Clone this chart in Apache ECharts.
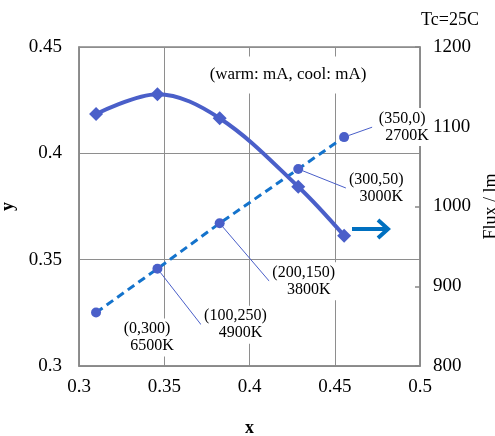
<!DOCTYPE html>
<html>
<head>
<meta charset="utf-8">
<script src="https://cdn.jsdelivr.net/npm/echarts@6/dist/echarts.min.js"></script>
<style>
html,body{margin:0;padding:0;background:#fff;}
#chart{width:495px;height:436px;}
</style>
</head>
<body>
<div id="chart"></div>
<script>
// ---- data ----
const chromaX = [0.310, 0.346, 0.3825, 0.4286, 0.4555];
const chromaY = [0.4185, 0.4278, 0.4165, 0.3843, 0.3613];
const fluxValues = [867, 922, 979, 1047, 1087];
const currentLabels = ['(0,300)', '(100,250)', '(200,150)', '(300,50)', '(350,0)'];
const cctLabels = ['6500K', '4900K', '3800K', '3000K', '2700K'];
const xAxisRange = [0.3, 0.5, 0.05];
const yAxisRange = [0.3, 0.45, 0.05];
const fluxAxisRange = [800, 1200, 100];
const noteText = '(warm: mA, cool: mA)';
const tempText = 'Tc=25C';

// ---- styling (offsets of data labels from their points) ----
const labelOffsets = [[51, 25], [78, 56], [84, 58], [78, 19], [58, -10]];
const showLeader = [false, true, true, true, true];

const FONT = 'Liberation Serif';
const MARK = '#4A5FC9';
const DASH = '#1473CC';
const GRIDC = '#8E8E8E';

const chart = echarts.init(document.getElementById('chart'), null, {renderer: 'canvas'});

const chromaData = chromaX.map((x, i) => [x, chromaY[i]]);
const fluxData = chromaX.map((x, i) => ({
  value: [x, fluxValues[i]],
  labelLine: {show: showLeader[i]}
}));

const option = {
  backgroundColor: '#fff',
  animation: false,
  textStyle: {fontFamily: FONT},
  grid: {left: 79, right: 75, top: 47, bottom: 70, containLabel: false, outerBoundsMode: 'none',
    show: true, borderColor: '#888', borderWidth: 1.5, backgroundColor: 'transparent'},
  xAxis: {
    type: 'value', min: xAxisRange[0], max: xAxisRange[1], interval: xAxisRange[2],
    name: 'x', nameLocation: 'middle', nameGap: 53,
    nameTextStyle: {fontFamily: FONT, fontSize: 18, fontWeight: 'bold', color: '#000'},
    axisLine: {show: true, lineStyle: {color: '#888', width: 1.5}},
    axisTick: {show: false},
    axisLabel: {fontFamily: FONT, fontSize: 19, color: '#000', margin: 12},
    splitLine: {show: true, lineStyle: {color: GRIDC, width: 1}}
  },
  yAxis: [{
    type: 'value', min: yAxisRange[0], max: yAxisRange[1], interval: yAxisRange[2],
    name: 'y', nameLocation: 'middle', nameGap: 62, nameMoveOverlap: false,
    nameTextStyle: {fontFamily: FONT, fontSize: 18, fontWeight: 'bold', color: '#000'},
    axisLine: {show: true, lineStyle: {color: '#888', width: 1.5}},
    axisTick: {show: false},
    axisLabel: {fontFamily: FONT, fontSize: 19, color: '#000', margin: 17},
    splitLine: {show: true, lineStyle: {color: GRIDC, width: 1}}
  }, {
    type: 'value', position: 'right', min: fluxAxisRange[0], max: fluxAxisRange[1], interval: fluxAxisRange[2],
    name: 'Flux / lm', nameLocation: 'middle', nameGap: 62,
    nameTextStyle: {fontFamily: FONT, fontSize: 18, color: '#000'},
    axisLine: {show: true, lineStyle: {color: '#888', width: 1.5}},
    axisTick: {show: true, inside: true, length: 5, lineStyle: {color: '#888', width: 1.5}},
    axisLabel: {fontFamily: FONT, fontSize: 19, color: '#000', margin: 13, formatter: v => String(v)},
    splitLine: {show: false}
  }],
  series: [{
    type: 'line', yAxisIndex: 1, data: fluxData, z: 2,
    symbol: 'circle', symbolSize: 10,
    itemStyle: {color: MARK},
    lineStyle: {color: DASH, width: 3, type: [8, 5]},
    label: {
      show: true, position: 'inside',
      formatter: p => '{a|' + currentLabels[p.dataIndex] + '}\n{b|' + cctLabels[p.dataIndex] + '}',
      backgroundColor: '#fff', padding: [2, 3],
      rich: {
        a: {fontFamily: FONT, fontSize: 16, color: '#000', lineHeight: 17},
        b: {fontFamily: FONT, fontSize: 16, color: '#000', lineHeight: 17, padding: [0, 0, 0, 10]}
      }
    },
    labelLine: {show: true, lineStyle: {color: MARK, width: 1}},
    labelLayout: p => ({dx: labelOffsets[p.dataIndex][0], dy: labelOffsets[p.dataIndex][1], hideOverlap: false})
  }, {
    type: 'line', yAxisIndex: 0, data: chromaData, z: 3,
    smooth: 0.35, symbol: 'diamond', symbolSize: 14,
    itemStyle: {color: MARK},
    lineStyle: {color: MARK, width: 4}
  }],
  graphic: [{
    type: 'text', z: 1,
    style: {text: noteText, x: 288, y: 75, align: 'center', verticalAlign: 'middle',
      fontFamily: FONT, fontSize: 17, fill: '#000',
      backgroundColor: '#fff', padding: [11, 14, 9, 14]}
  }, {
    type: 'text', z: 50,
    style: {text: tempText, x: 421, y: 11, fontFamily: FONT, fontSize: 18, fill: '#000'}
  }, {
    type: 'group', z: 50,
    children: [{
      type: 'line', shape: {x1: 352, y1: 229, x2: 387, y2: 229},
      style: {stroke: '#0070C0', lineWidth: 4}
    }, {
      type: 'polyline', shape: {points: [[378, 220], [388, 229], [378, 238]]},
      style: {stroke: '#0070C0', lineWidth: 4, fill: null}
    }]
  }]
};
chart.setOption(option);
</script>
</body>
</html>
